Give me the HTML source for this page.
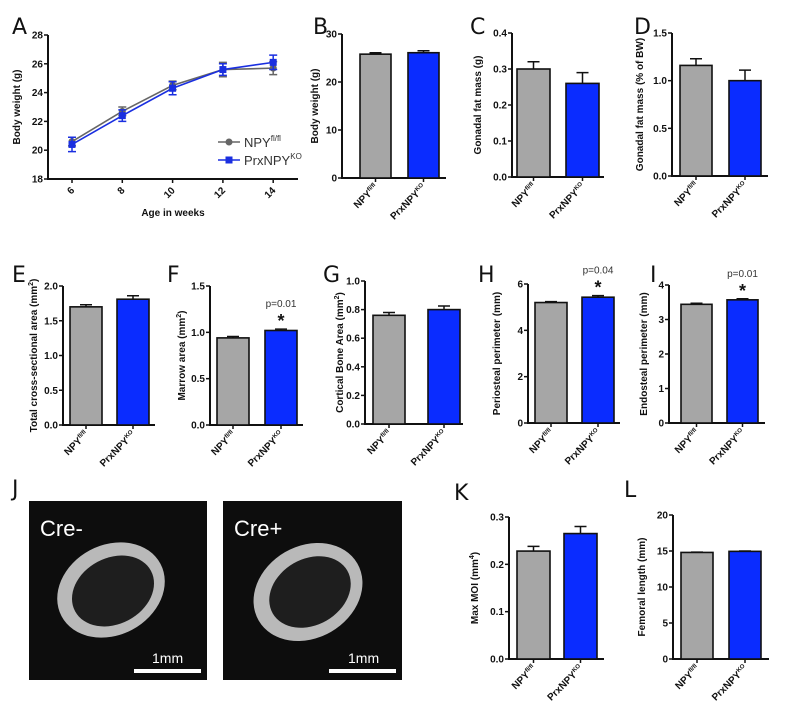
<!DOCTYPE html>
<html><head><meta charset="utf-8"><style>
body{margin:0;background:#fff}
svg{display:block;font-family:"Liberation Sans",Arial,sans-serif}
.t{font-size:10px;font-weight:bold;fill:#111}
.pl{font-family:"DejaVu Sans","Liberation Sans",sans-serif;font-size:22px;fill:#111}
</style></head><body>
<svg id="fig" width="788" height="709" viewBox="0 0 788 709" xmlns="http://www.w3.org/2000/svg">
<g id="bones">
 <rect x="29" y="501" width="178" height="179" fill="#0d0d0d"/>
 <ellipse cx="111" cy="590" rx="56" ry="45" transform="rotate(-28 111 590)" fill="#b9b9b9"/>
 <ellipse cx="113" cy="591" rx="43" ry="33" transform="rotate(-28 113 591)" fill="#1e1e1e"/>
 <text x="40" y="536" fill="#fff" font-size="22">Cre-</text>
 <text x="152" y="663" fill="#fff" font-size="14">1mm</text>
 <rect x="134" y="669" width="67" height="4" fill="#fff"/>
 <rect x="223" y="501" width="179" height="179" fill="#0d0d0d"/>
 <ellipse cx="308" cy="592" rx="57" ry="46" transform="rotate(-30 308 592)" fill="#b9b9b9"/>
 <ellipse cx="310" cy="592" rx="43" ry="33" transform="rotate(-30 310 592)" fill="#1e1e1e"/>
 <text x="234" y="536" fill="#fff" font-size="22">Cre+</text>
 <text x="348" y="663" fill="#fff" font-size="14">1mm</text>
 <rect x="329" y="669" width="67" height="4" fill="#fff"/>
</g>
</svg>
<script>
// Panel A data
const ageWeeks = [6, 8, 10, 12, 14];
const ctrlWeight = [20.6, 22.7, 24.5, 25.6, 25.7];
const ctrlWeightErr = [0.3, 0.3, 0.3, 0.5, 0.45];
const koWeight = [20.4, 22.4, 24.3, 25.6, 26.1];
const koWeightErr = [0.5, 0.4, 0.45, 0.4, 0.5];
const aTicks = [18, 20, 22, 24, 26, 28];
// Bar panel data (values in order [NPYfl/fl, PrxNPYKO])
const bMeans = [25.8, 26.1]; const bErr = [0.3, 0.4]; const bTicks = [0, 10, 20, 30];
const cMeans = [0.30, 0.26]; const cErr = [0.02, 0.03]; const cTicks = [0.0, 0.1, 0.2, 0.3, 0.4];
const dMeans = [1.16, 1.00]; const dErr = [0.07, 0.11]; const dTicks = [0.0, 0.5, 1.0, 1.5];
const eMeans = [1.70, 1.81]; const eErr = [0.03, 0.05]; const eTicks = [0.0, 0.5, 1.0, 1.5, 2.0];
const fMeans = [0.94, 1.02]; const fErr = [0.015, 0.015]; const fTicks = [0.0, 0.5, 1.0, 1.5];
const gMeans = [0.76, 0.80]; const gErr = [0.02, 0.025]; const gTicks = [0.0, 0.2, 0.4, 0.6, 0.8, 1.0];
const hMeans = [5.2, 5.43]; const hErr = [0.04, 0.07]; const hTicks = [0, 2, 4, 6];
const iMeans = [3.44, 3.57]; const iErr = [0.03, 0.03]; const iTicks = [0, 1, 2, 3, 4];
const kMeans = [0.228, 0.265]; const kErr = [0.01, 0.015]; const kTicks = [0.0, 0.1, 0.2, 0.3];
const lMeans = [14.8, 14.95]; const lErr = [0.05, 0.05]; const lTicks = [0, 5, 10, 15, 20];

const NS = "http://www.w3.org/2000/svg";
const svg = document.getElementById('fig');
function mk(tag, attrs, parent, text) {
  const e = document.createElementNS(NS, tag);
  for (const k in attrs) e.setAttribute(k, attrs[k]);
  if (text !== undefined) e.textContent = text;
  (parent || svg).appendChild(e);
  return e;
}
function fmt(v, ticks) {
  const dec = ticks.some(t => Math.round(t) !== t) ? 1 : 0;
  return v.toFixed(dec);
}
function catLabel(g, x, y, main, sup) {
  const t = mk('text', {x: x, y: y, 'class': 't', 'font-size': '9', 'text-anchor': 'end', transform: 'rotate(-45 ' + x + ' ' + y + ')'}, g);
  
  
  mk('tspan', {}, t, main);
  mk('tspan', {'font-size': '6', dy: '-4'}, t, sup);
}
function yAxis(g, ax, yTop, yBot, ticks, labelText, labelX) {
  const min = ticks[0], max = ticks[ticks.length - 1];
  const Y = v => yBot - (v - min) / (max - min) * (yBot - yTop);
  mk('line', {x1: ax, y1: yTop, x2: ax, y2: yBot + 1, stroke: '#111', 'stroke-width': 2}, g);
  ticks.forEach(t => {
    mk('line', {x1: ax - 4, y1: Y(t), x2: ax, y2: Y(t), stroke: '#111', 'stroke-width': 1.5}, g);
    const tl = mk('text', {x: ax - 5, y: Y(t) + 3.5, 'class': 't', 'text-anchor': 'end'}, g, fmt(t, ticks));
    
    
  });
  const cy = (yTop + yBot) / 2;
  const lab = mk('text', {x: labelX, y: cy, 'class': 't', 'font-size': '10', 'text-anchor': 'middle', transform: 'rotate(-90 ' + labelX + ' ' + cy + ')'}, g);
  
  
  labelText.forEach(p => { mk('tspan', p.sup ? {'font-size': '7', dy: '-4'} : (p.after ? {dy: '4'} : {}), lab, p.s); });
  return Y;
}
function barPanel(o) {
  const g = mk('g', {});
  
  
  const pl = mk('text', {x: o.lx, y: o.ly, 'class': 'pl'}, g, o.letter);
  
  
  const Y = yAxis(g, o.ax, o.yTop, o.yBot, o.ticks, o.label, o.labelX);
  mk('line', {x1: o.ax - 1, y1: o.yBot, x2: o.axEnd, y2: o.yBot, stroke: '#111', 'stroke-width': 2}, g);
  const fills = ['#a6a6a6', '#0a2cff'];
  const sups = ['fl/fl', 'KO'], mains = ['NPY', 'PrxNPY'];
  o.means.forEach((m, i) => {
    const x0 = o.bx[i], w = o.bw;
    const e = o.err[i];
    const el = mk('path', {d: 'M' + (x0 + w / 2) + ' ' + Y(m) + 'V' + Y(m + e) + 'M' + (x0 + w / 2 - 6) + ' ' + Y(m + e) + 'H' + (x0 + w / 2 + 6), stroke: '#111', 'stroke-width': 1.5, fill: 'none'}, g);
    
    
    const r = mk('rect', {x: x0, y: Y(m), width: w, height: Y(o.ticks[0]) - Y(m), fill: fills[i], stroke: '#111', 'stroke-width': 1.6}, g);
    
    
    const cx = x0 + w / 2;
    mk('line', {x1: cx, y1: o.yBot, x2: cx, y2: o.yBot + 4, stroke: '#111', 'stroke-width': 1.5}, g);
    catLabel(g, cx + 3, o.yBot + 10, mains[i], sups[i]);
  });
  if (o.p) {
    const cx = o.bx[1] + o.bw / 2;
    const pt = mk('text', {x: cx, y: Y(o.means[1] + o.err[1]) - 22, 'font-size': '10', fill: '#333', 'text-anchor': 'middle'}, g, o.p);
    
    
    const st = mk('text', {x: cx, y: Y(o.means[1] + o.err[1]) - 2, 'font-size': '18', 'font-weight': 'bold', fill: '#111', 'text-anchor': 'middle'}, g, '*');
    
    
  }
}
// Panel A
(function () {
  const g = mk('g', {});
  
  
  const pl = mk('text', {x: 12, y: 34, 'class': 'pl', 'font-size': '24'}, g, 'A');
  
  
  const Y = yAxis(g, 48, 35, 179, aTicks, [{s: 'Body weight (g)'}], 20);
  const X = w => 72 + (w - 6) / 2 * 50.3;
  mk('line', {x1: 47, y1: 179, x2: 298, y2: 179, stroke: '#111', 'stroke-width': 2}, g);
  ageWeeks.forEach(w => {
    mk('line', {x1: X(w), y1: 179, x2: X(w), y2: 183, stroke: '#111', 'stroke-width': 1.5}, g);
    const t = mk('text', {x: X(w) + 3, y: 191, 'class': 't', 'text-anchor': 'end', transform: 'rotate(-45 ' + (X(w) + 3) + ' 191)'}, g, String(w));
    
    
  });
  const xt = mk('text', {x: 173, y: 216, 'class': 't', 'font-size': '11', 'text-anchor': 'middle'}, g, 'Age in weeks');
  
  
  function series(vals, errs, col, sq, name) {
    const s = mk('g', {}, g);
    
    
    mk('polyline', {points: vals.map((v, i) => X(ageWeeks[i]) + ',' + Y(v)).join(' '), fill: 'none', stroke: col, 'stroke-width': 1.6}, s);
    vals.forEach((v, i) => {
      const x = X(ageWeeks[i]);
      mk('path', {d: 'M' + x + ' ' + Y(v - errs[i]) + 'V' + Y(v + errs[i]) + 'M' + (x - 4) + ' ' + Y(v - errs[i]) + 'H' + (x + 4) + 'M' + (x - 4) + ' ' + Y(v + errs[i]) + 'H' + (x + 4), stroke: col, 'stroke-width': 1.5, fill: 'none'}, s);
      if (sq) mk('rect', {x: x - 3.5, y: Y(v) - 3.5, width: 7, height: 7, fill: col}, s);
      else mk('circle', {cx: x, cy: Y(v), r: 3.5, fill: col}, s);
    });
  }
  series(ctrlWeight, ctrlWeightErr, '#666', false, 'series-npy-flfl');
  series(koWeight, koWeightErr, '#1a2fe0', true, 'series-prxnpy-ko');
  const lg = mk('g', {}, g);
  
  
  mk('line', {x1: 218, y1: 142, x2: 240, y2: 142, stroke: '#666', 'stroke-width': 1.6}, lg);
  mk('circle', {cx: 229, cy: 142, r: 3.5, fill: '#666'}, lg);
  const t1 = mk('text', {x: 244, y: 147, 'font-size': '13', fill: '#333'}, lg);
  mk('tspan', {}, t1, 'NPY'); mk('tspan', {'font-size': '8', dy: '-6'}, t1, 'fl/fl');
  mk('line', {x1: 218, y1: 160, x2: 240, y2: 160, stroke: '#1a2fe0', 'stroke-width': 1.6}, lg);
  mk('rect', {x: 225.5, y: 156.5, width: 7, height: 7, fill: '#1a2fe0'}, lg);
  const t2 = mk('text', {x: 244, y: 165, 'font-size': '13', fill: '#333'}, lg);
  mk('tspan', {}, t2, 'PrxNPY'); mk('tspan', {'font-size': '8', dy: '-6'}, t2, 'KO');
})();
barPanel({letter: 'B', lx: 313, ly: 34, ax: 342, axEnd: 446, yTop: 34, yBot: 178, ticks: bTicks, means: bMeans, err: bErr, bx: [360, 408], bw: 31, label: [{s: 'Body weight (g)'}], labelX: 318});
barPanel({letter: 'C', lx: 470, ly: 34, ax: 512, axEnd: 604, yTop: 33, yBot: 177, ticks: cTicks, means: cMeans, err: cErr, bx: [517, 566], bw: 33, label: [{s: 'Gonadal fat mass (g)'}], labelX: 481});
barPanel({letter: 'D', lx: 634, ly: 34, ax: 672, axEnd: 768, yTop: 33, yBot: 176, ticks: dTicks, means: dMeans, err: dErr, bx: [680, 729], bw: 32, label: [{s: 'Gonadal fat mass (% of BW)'}], labelX: 643});
barPanel({letter: 'E', lx: 12, ly: 282, ax: 63, axEnd: 155, yTop: 286, yBot: 425, ticks: eTicks, means: eMeans, err: eErr, bx: [70, 117], bw: 32, label: [{s: 'Total cross-sectional area (mm'}, {s: '2', sup: true}, {s: ')', after: true}], labelX: 37});
barPanel({letter: 'F', lx: 167, ly: 282, ax: 210, axEnd: 303, yTop: 286, yBot: 425, ticks: fTicks, means: fMeans, err: fErr, bx: [217, 265], bw: 32, label: [{s: 'Marrow area (mm'}, {s: '2', sup: true}, {s: ')', after: true}], labelX: 185, p: 'p=0.01'});
barPanel({letter: 'G', lx: 323, ly: 282, ax: 365, axEnd: 463, yTop: 281, yBot: 424, ticks: gTicks, means: gMeans, err: gErr, bx: [373, 428], bw: 32, label: [{s: 'Cortical Bone Area (mm'}, {s: '2', sup: true}, {s: ')', after: true}], labelX: 343});
barPanel({letter: 'H', lx: 478, ly: 282, ax: 528, axEnd: 620, yTop: 284, yBot: 423, ticks: hTicks, means: hMeans, err: hErr, bx: [535, 582], bw: 32, label: [{s: 'Periosteal perimeter (mm)'}], labelX: 500, p: 'p=0.04'});
barPanel({letter: 'I', lx: 650, ly: 282, ax: 669, axEnd: 765, yTop: 285, yBot: 423, ticks: iTicks, means: iMeans, err: iErr, bx: [681, 727], bw: 31, label: [{s: 'Endosteal perimeter (mm)'}], labelX: 647, p: 'p=0.01'});
barPanel({letter: 'K', lx: 454, ly: 500, ax: 509, axEnd: 604, yTop: 517, yBot: 659, ticks: kTicks, means: kMeans, err: kErr, bx: [517, 564], bw: 33, label: [{s: 'Max MOI (mm'}, {s: '4', sup: true}, {s: ')', after: true}], labelX: 478});
barPanel({letter: 'L', lx: 624, ly: 497, ax: 673, axEnd: 769, yTop: 515, yBot: 659, ticks: lTicks, means: lMeans, err: lErr, bx: [681, 729], bw: 32, label: [{s: 'Femoral length (mm)'}], labelX: 645});
const jl = mk('text', {x: 12, y: 496, 'class': 'pl'}, svg, 'J');


</script>
</body></html>
